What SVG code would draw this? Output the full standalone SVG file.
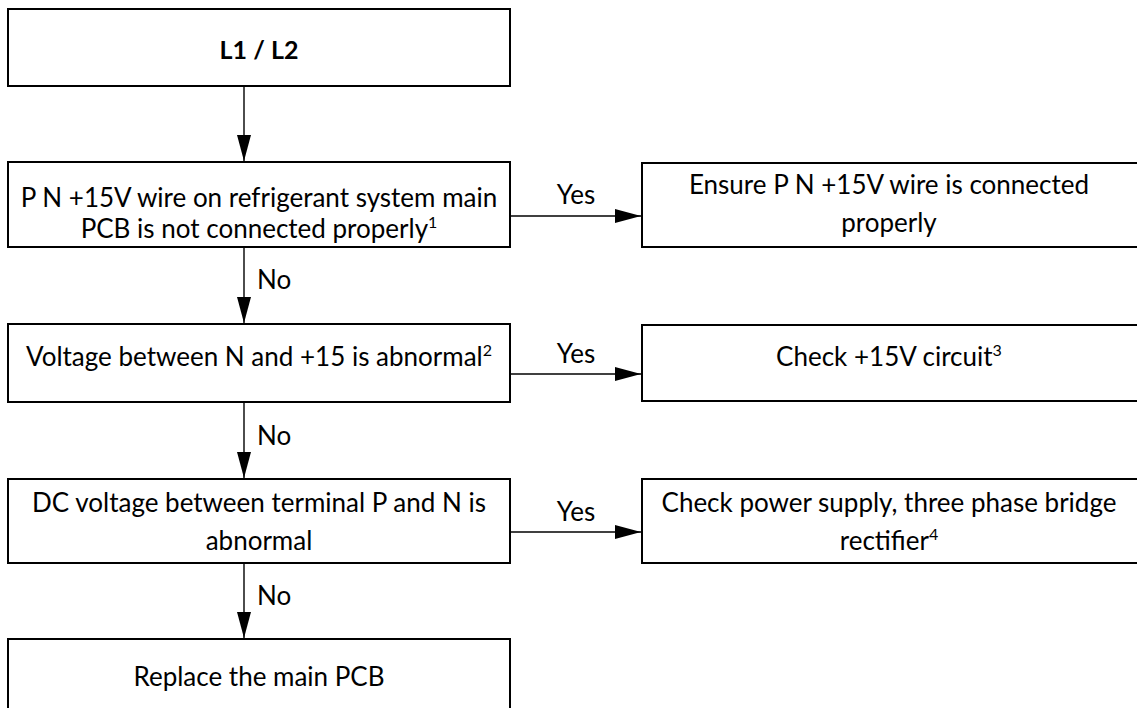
<svg xmlns="http://www.w3.org/2000/svg" width="1137" height="708" viewBox="0 0 1137 708">
<defs>
<style>
.box{fill:#fff;stroke:#000;stroke-width:2}
.t{font-family:Lato,"Liberation Sans",sans-serif;font-size:26px;fill:#000;text-anchor:middle}
.b{font-weight:bold;font-size:25px}
.lbl{font-family:Lato,"Liberation Sans",sans-serif;font-size:26px;fill:#000}
.c{stroke:#000;stroke-width:1.4;fill:none}
.sup{font-size:16px}
</style>
<marker id="ah" viewBox="0 0 26 14" refX="26" refY="7" markerWidth="26" markerHeight="14" markerUnits="userSpaceOnUse" orient="auto">
<path d="M0,0 L26,7 L0,14 Z" fill="#000"/>
</marker>
</defs>
<rect width="1137" height="708" fill="#fff"/>
<g id="n1"><rect class="box" x="8" y="9" width="502" height="77"/><text class="t b" x="259" y="59">L1 / L2</text></g>
<g id="n2"><rect class="box" x="8" y="162" width="502" height="85"/><text class="t" x="259" y="207">P N +15V wire on refrigerant system main</text><text class="t" x="259" y="238">PCB is not connected properly<tspan class="sup" dy="-10">1</tspan></text></g>
<g id="n3"><rect class="box" x="642" y="163" width="496" height="84"/><text class="t" x="889" y="194">Ensure P N +15V wire is connected</text><text class="t" x="889" y="232">properly</text></g>
<g id="n4"><rect class="box" x="8" y="324" width="502" height="78"/><text class="t" x="259" y="366">Voltage between N and +15 is abnormal<tspan class="sup" dy="-10">2</tspan></text></g>
<g id="n5"><rect class="box" x="642" y="325" width="496" height="76"/><text class="t" x="889" y="366">Check +15V circuit<tspan class="sup" dy="-10">3</tspan></text></g>
<g id="n6"><rect class="box" x="8" y="479" width="502" height="84"/><text class="t" x="259" y="512">DC voltage between terminal P and N is</text><text class="t" x="259" y="550">abnormal</text></g>
<g id="n7"><rect class="box" x="642" y="479" width="496" height="84"/><text class="t" x="889" y="512">Check power supply, three phase bridge</text><text class="t" x="889" y="550">rectifier<tspan class="sup" dy="-10">4</tspan></text></g>
<g id="n8"><rect class="box" x="8" y="639" width="502" height="80"/><text class="t" x="259" y="686">Replace the main PCB</text></g>
<g id="connectors">
<line class="c" x1="244" y1="86" x2="244" y2="161" marker-end="url(#ah)"/>
<line class="c" x1="244" y1="247" x2="244" y2="323" marker-end="url(#ah)"/>
<line class="c" x1="244" y1="402" x2="244" y2="478" marker-end="url(#ah)"/>
<line class="c" x1="244" y1="563" x2="244" y2="638" marker-end="url(#ah)"/>
<line class="c" x1="510" y1="216" x2="641" y2="216" marker-end="url(#ah)"/>
<line class="c" x1="510" y1="374" x2="641" y2="374" marker-end="url(#ah)"/>
<line class="c" x1="510" y1="532" x2="641" y2="532" marker-end="url(#ah)"/>
<text class="lbl" x="257" y="289">No</text>
<text class="lbl" x="257" y="445">No</text>
<text class="lbl" x="257" y="605">No</text>
<text class="lbl" x="576" y="204" text-anchor="middle">Yes</text>
<text class="lbl" x="576" y="363" text-anchor="middle">Yes</text>
<text class="lbl" x="576" y="521" text-anchor="middle">Yes</text>
</g>
</svg>
